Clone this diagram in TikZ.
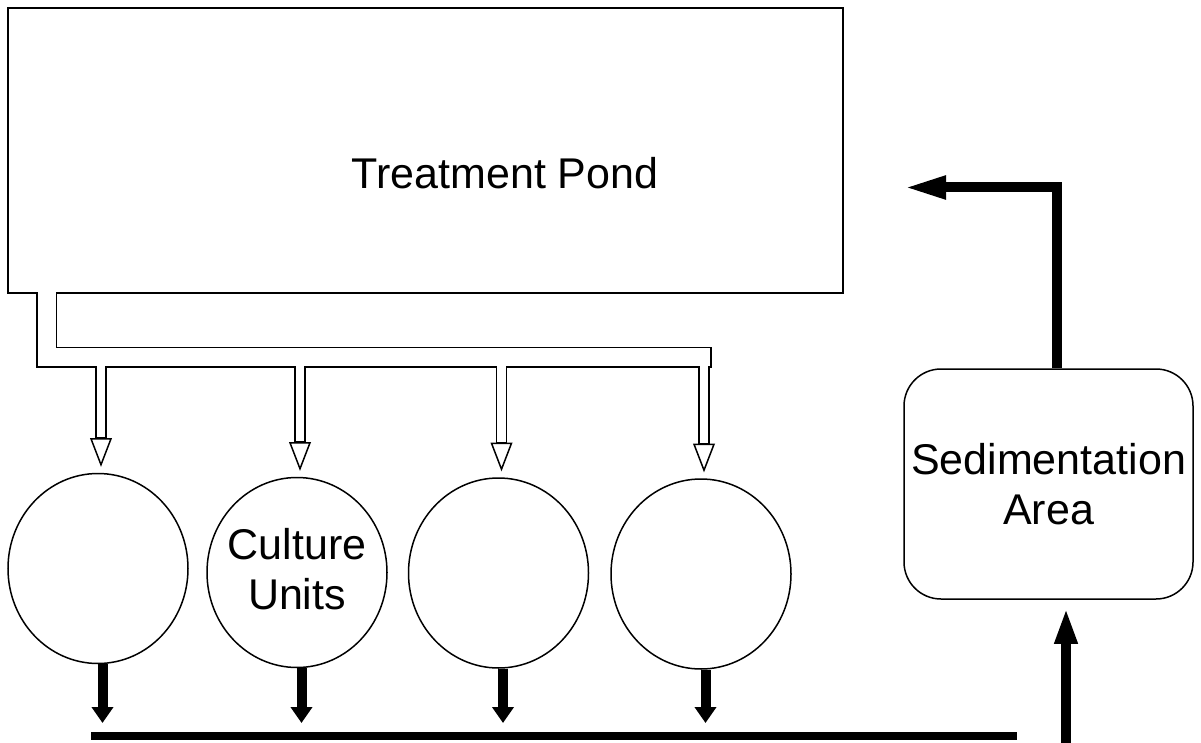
\documentclass[tikz,border=0pt]{standalone}
\usepackage{fontspec}
\setmainfont{Liberation Sans}
\usetikzlibrary{calc,arrows.meta,shapes.geometric}

\begin{document}
\begin{tikzpicture}[x=1pt,y=-1pt,
    box/.style={draw,line width=1.5,inner sep=0pt},
    unit/.style={box,ellipse,minimum width=180,minimum height=190},
    txt/.style={font=\fontsize{43}{50}\selectfont,align=center},
    flow/.style={line width=10,-{Triangle[length=16,width=21]}},
    pipeout/.style={line width=21},
    pipein/.style={line width=18,white},
    stemout/.style={line width=11.5},
    stemin/.style={line width=8.5,white}]
    \useasboundingbox (0,0) rectangle (1201,743);
    % pond, culture units and sedimentation area
    \node[box,minimum width=835,minimum height=285] (pond) at (425.5,150.5) {};
    \node[txt] (pondname) at (505,173) {Treatment Pond};
    \node[unit] (cu1) at (98,568.5) {};
    \node[unit] (cu2) at (297,572.5) {};
    \node[txt] (cuname) at (297,569) {Culture\\Units};
    \node[unit] (cu3) at (498.5,573) {};
    \node[unit] (cu4) at (701,574) {};
    \node[box,rounded corners=37,minimum width=289,minimum height=230,txt] (sed) at (1048.5,484) {Sedimentation\\Area};
    % hollow supply pipe
    \coordinate (tap) at ([xshift=39.5]pond.south west);
    \coordinate (main) at (0,357);
    \draw[pipeout] (tap) -- (tap |- main) -- (711.5,357);
    \foreach \i in {1,...,4} {
      \coordinate (tip\i) at ([xshift=3,yshift=8]cu\i.north);
      \draw[stemout] (tip\i |- main) -- ([yshift=26]tip\i);
      \draw[line width=1.5,fill=white] (tip\i) -- ++(-10,-26) -- ++(20,0) -- cycle;
    }
    \draw[pipein] ([yshift=3]tap) -- (tap |- main) -- (709.5,357);
    \foreach \i in {1,...,4}
      \draw[stemin] (tip\i |- main) -- ([yshift=27.5]tip\i);
    % drain
    \coordinate (drainL) at (91,736);
    \coordinate (drainR) at (1017,736);
    \coordinate (drain) at (0,723);
    \draw[line width=7.5] (drainL) -- (drainR);
    \foreach \i in {1,...,4}
      \draw[flow] ([xshift=4.5]cu\i.south) -- ([xshift=4.5]cu\i.south |- drain);
    % return to pond
    \coordinate (riser) at (1066,745);
    \draw[line width=10,-{Triangle[length=36,width=21]},shorten >=8] (riser) -- (riser |- sed.south);
    \coordinate (back) at (903,187.5);
    \draw[line width=10,-{Triangle[length=43,width=21]}] ([xshift=8.5]sed.north) |- (back);
  \end{tikzpicture}
\end{document}
